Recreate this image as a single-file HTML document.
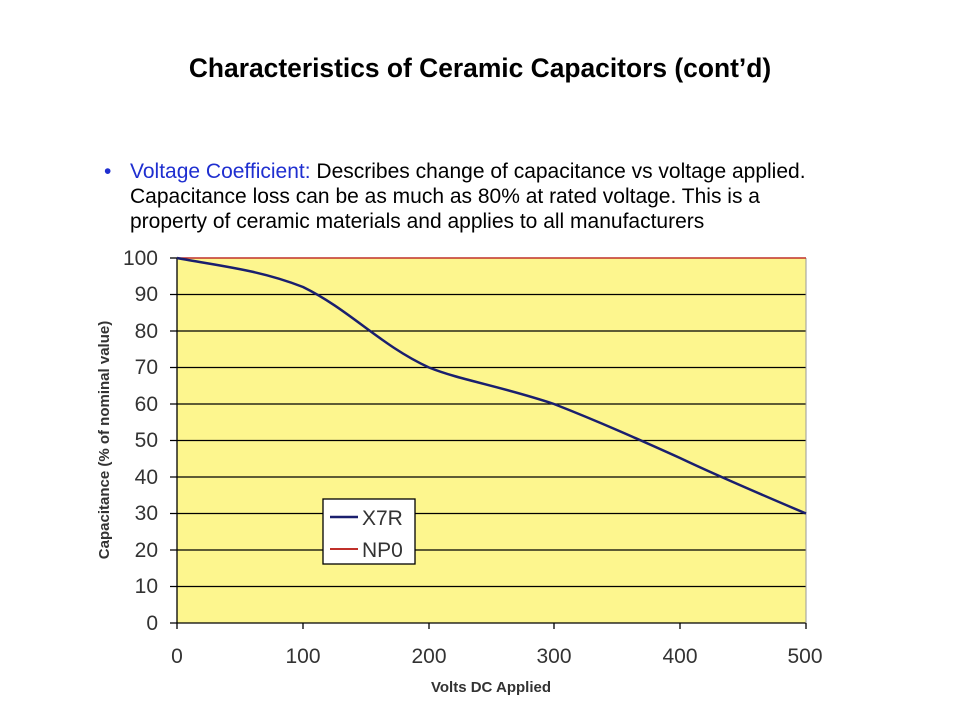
<!DOCTYPE html>
<html><head><style>
body{margin:0;width:960px;height:720px;background:#fff;font-family:"Liberation Sans",sans-serif;overflow:hidden;position:relative}
.t{position:absolute;left:0;width:960px;text-align:center;top:52px;font-weight:bold;font-size:26.4px;color:#000;line-height:32px}
.b{position:absolute;left:130px;top:160px;font-size:21px;line-height:24.8px;color:#000;white-space:nowrap}
.dot{position:absolute;left:104px;top:160px;font-size:21px;line-height:24.8px;color:#1f2fd0}
</style></head><body>
<div class="t">Characteristics of Ceramic Capacitors (cont’d)</div>
<div class="dot">•</div>
<div class="b"><span style="color:#1f2fd0">Voltage Coefficient:</span> Describes change of capacitance vs voltage applied.<br>Capacitance loss can be as much as 80% at rated voltage. This is a<br>property of ceramic materials and applies to all manufacturers</div>
<svg width="960" height="720" style="position:absolute;left:0;top:0" font-family="Liberation Sans, sans-serif">
<rect x="177" y="258" width="629" height="365" fill="#fdf68e"/>
<g stroke="#000" stroke-width="1.3">
<line x1="170" y1="294.5" x2="806" y2="294.5"/><line x1="170" y1="331" x2="806" y2="331"/>
<line x1="170" y1="367.5" x2="806" y2="367.5"/><line x1="170" y1="404" x2="806" y2="404"/>
<line x1="170" y1="440.5" x2="806" y2="440.5"/><line x1="170" y1="477" x2="806" y2="477"/>
<line x1="170" y1="513.5" x2="806" y2="513.5"/><line x1="170" y1="550" x2="806" y2="550"/>
<line x1="170" y1="586.5" x2="806" y2="586.5"/><line x1="170" y1="623" x2="806" y2="623"/>
<line x1="170" y1="258" x2="177" y2="258"/>
<line x1="177" y1="258" x2="177" y2="629"/>
<line x1="303" y1="623" x2="303" y2="629"/><line x1="429" y1="623" x2="429" y2="629"/>
<line x1="554" y1="623" x2="554" y2="629"/><line x1="680" y1="623" x2="680" y2="629"/>
<line x1="806" y1="623" x2="806" y2="629"/>
</g>
<line x1="806" y1="258" x2="806" y2="623" stroke="#999" stroke-width="1"/>
<line x1="177" y1="258" x2="806" y2="258" stroke="#c0302a" stroke-width="1.5"/>
<path d="M177,258 C220,266 260,270 303,287 C350,310 380,345 429,367.5 C460,380 500,386 554,404 C600,422 640,440 680,458 C720,477 760,494 806,513.5" fill="none" stroke="#1a1f6e" stroke-width="2.5"/>
<g font-size="21" fill="#333" text-anchor="end">
<text x="158" y="265">100</text><text x="158" y="301">90</text><text x="158" y="338">80</text><text x="158" y="374">70</text><text x="158" y="411">60</text><text x="158" y="447">50</text><text x="158" y="484">40</text><text x="158" y="520">30</text><text x="158" y="557">20</text><text x="158" y="593">10</text><text x="158" y="630">0</text>
</g>
<g font-size="21" fill="#333" text-anchor="middle">
<text x="177" y="663">0</text><text x="303" y="663">100</text><text x="429" y="663">200</text><text x="554" y="663">300</text><text x="680" y="663">400</text><text x="805" y="663">500</text>
</g>
<text x="491" y="692" font-size="15" font-weight="bold" fill="#333" text-anchor="middle">Volts DC Applied</text>
<text transform="translate(109,440) rotate(-90)" font-size="15" font-weight="bold" fill="#333" text-anchor="middle">Capacitance (% of nominal value)</text>
<rect x="323" y="499" width="92" height="65" fill="#fff" stroke="#000" stroke-width="1.3"/>
<line x1="330" y1="517" x2="358" y2="517" stroke="#1a1f6e" stroke-width="2.5"/>
<line x1="330" y1="549" x2="358" y2="549" stroke="#c0302a" stroke-width="2"/>
<text x="362" y="525" font-size="21" fill="#333">X7R</text>
<text x="362" y="557" font-size="21" fill="#333">NP0</text>
</svg>
</body></html>
